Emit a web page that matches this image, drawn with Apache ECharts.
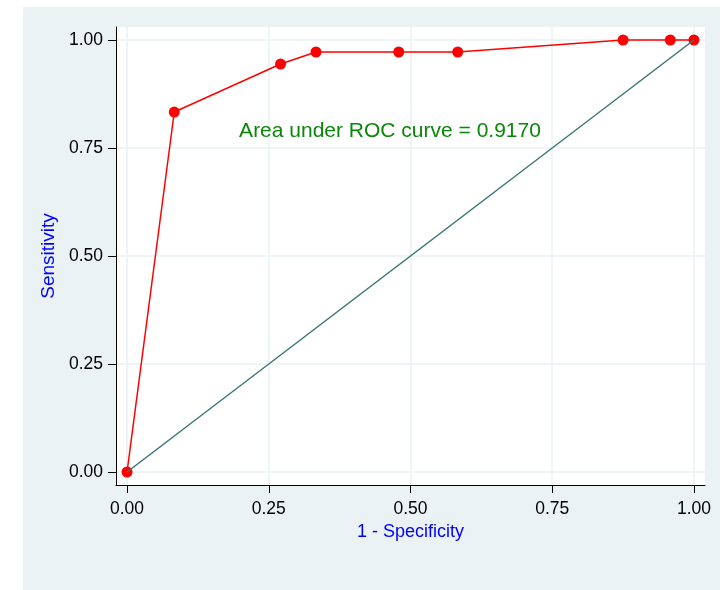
<!DOCTYPE html>
<html><head><meta charset="utf-8">
<script src="https://cdn.jsdelivr.net/npm/echarts@6/dist/echarts.min.js"></script>
<style>html,body{margin:0;padding:0;background:#fff}#c{width:720px;height:590px}</style>
</head><body><div id="c"></div>
<script>
// Data
const oneMinusSpecificity = [0, 0.0833, 0.2708, 0.3333, 0.4792, 0.5833, 0.875, 0.9583, 1];
const sensitivity = [0, 0.8333, 0.9444, 0.9722, 0.9722, 0.9722, 1, 1, 1];
const refX = [0, 1];
const refY = [0, 1];
const xTicks = [0, 0.25, 0.5, 0.75, 1];
const yTicks = [0, 0.25, 0.5, 0.75, 1];
const aucText = 'Area under ROC curve = 0.9170';
const xTitle = '1 - Specificity';
const yTitle = 'Sensitivity';

const chart = echarts.init(document.getElementById('c'), null, {renderer: 'canvas'});
const FONT = 'Liberation Sans, Arial, sans-serif';
const fmt = v => v.toFixed(2);

chart.setOption({
  backgroundColor: '#ffffff',
  animation: false,
  graphic: [
    {type: 'rect', z: -10, silent: true, shape: {x: 23, y: 7, width: 697, height: 583}, style: {fill: '#EAF2F3'}},
    {type: 'text', z: 50, x: 390, y: 131, style: {text: aucText, fill: '#0A870A', font: '21px ' + FONT, align: 'center', verticalAlign: 'middle'}}
  ],
  grid: {left: 116, top: 27, width: 589, height: 458, show: true, backgroundColor: '#ffffff', borderWidth: 0, containLabel: false},
  xAxis: {
    type: 'value', min: -0.0195, max: 1.0195,
    name: xTitle, nameLocation: 'middle', nameGap: 34,
    nameTextStyle: {color: '#0000FF', fontSize: 18, fontFamily: FONT},
    axisLine: {show: true, onZero: false, lineStyle: {color: '#000', width: 1}},
    axisTick: {show: true, length: 8, customValues: xTicks, lineStyle: {color: '#000'}},
    axisLabel: {customValues: xTicks, formatter: fmt, color: '#000', fontSize: 17.5, fontFamily: FONT, margin: 15},
    splitLine: {show: true, lineStyle: {color: '#EAF2F3', width: 1.5}}
  },
  yAxis: {
    type: 'value', min: -0.0301, max: 1.0301,
    name: yTitle, nameLocation: 'middle', nameGap: 51,
    nameTextStyle: {color: '#0000FF', fontSize: 19, fontFamily: FONT},
    axisLine: {show: true, onZero: false, lineStyle: {color: '#000', width: 1}},
    axisTick: {show: true, length: 8, customValues: yTicks, lineStyle: {color: '#000'}},
    axisLabel: {customValues: yTicks, formatter: fmt, color: '#000', fontSize: 17.5, fontFamily: FONT, margin: 13},
    splitLine: {show: true, lineStyle: {color: '#EAF2F3', width: 1.5}}
  },
  series: [
    {
      type: 'line', name: 'ROC', z: 3,
      data: oneMinusSpecificity.map((x, i) => [x, sensitivity[i]]),
      lineStyle: {color: '#FF0000', width: 1.5},
      itemStyle: {color: '#FF0000'},
      symbol: 'circle', symbolSize: 11, showSymbol: true
    },
    {
      type: 'line', name: 'Reference', z: 4,
      data: refX.map((x, i) => [x, refY[i]]),
      lineStyle: {color: '#3B7673', width: 1.5},
      symbol: 'none'
    }
  ]
});
</script></body></html>
